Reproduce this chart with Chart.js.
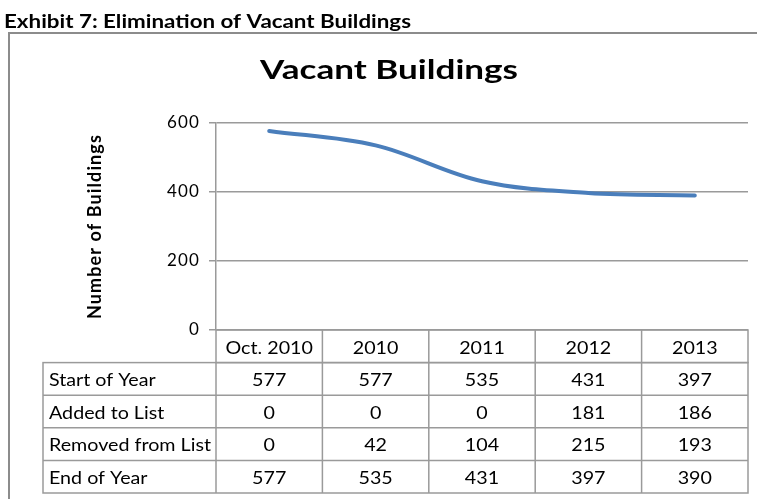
<!DOCTYPE html>
<html>
<head>
<meta charset="utf-8">
<script src="https://cdn.jsdelivr.net/npm/chart.js@4"></script>
<style>
  html, body { margin: 0; padding: 0; background: #fff; overflow: hidden; }
  canvas { display: block; }
</style>
</head>
<body>
<canvas id="vacantChart" width="757" height="499"></canvas>
<script>
// Data read from the exhibit
const periods = ['Oct. 2010', '2010', '2011', '2012', '2013'];
const startOfYear = [577, 577, 535, 431, 397];
const addedToList = [0, 0, 0, 181, 186];
const removedFromList = [0, 42, 104, 215, 193];
const endOfYear = [577, 535, 431, 397, 390];
const rowLabels = ['Start of Year', 'Added to List', 'Removed from List', 'End of Year'];
const yTicks = [0, 200, 400, 600];

const FONT = 'Lato, "Open Sans", sans-serif';
const GRID = '#9a9a9a';

// The source image is wider than the font's natural shape, so text is stretched sideways
function wideText(ctx, text, x, y, align, sx) {
    ctx.save();
    ctx.translate(x, y);
    ctx.scale(sx, 1);
    ctx.textAlign = align;
    ctx.fillText(text, 0, 0);
    ctx.restore();
}

// scale factor that makes `text` come out `width` pixels wide
function stretchFor(ctx, text, width) {
    return width / ctx.measureText(text).width;
}

// Frame, headings and the data table under the plot
const exhibitPlugin = {
    id: 'exhibit',
    beforeDraw(chart) {
        const ctx = chart.ctx;
        ctx.save();
        ctx.fillStyle = '#fff';
        ctx.fillRect(0, 0, chart.width, chart.height);

        // outer box (only left and top edges are in the picture)
        ctx.strokeStyle = '#8c8c8c';
        ctx.lineWidth = 2;
        ctx.beginPath();
        ctx.moveTo(9, chart.height);
        ctx.lineTo(9, 33);
        ctx.lineTo(chart.width, 33);
        ctx.stroke();

        ctx.fillStyle = '#000';
        ctx.textBaseline = 'alphabetic';
        const exhibit = 'Exhibit 7: Elimination of Vacant Buildings';
        ctx.font = 'bold 19px ' + FONT;
        wideText(ctx, exhibit, 4, 28, 'left', stretchFor(ctx, exhibit, 407));

        const title = 'Vacant Buildings';
        ctx.font = 'bold 26px ' + FONT;
        wideText(ctx, title, 389, 79, 'center', stretchFor(ctx, title, 258));
        ctx.restore();

        // spacing for the library's own axis text
        ctx.letterSpacing = '1.1px';
    },
    afterDraw(chart) {
        const ctx = chart.ctx;
        const x = chart.scales.x;
        const area = chart.chartArea;
        const colW = (area.right - area.left) / periods.length;
        const rowH = 32.6;
        const labelLeft = 43;
        const rows = [startOfYear, addedToList, removedFromList, endOfYear];

        ctx.save();
        ctx.letterSpacing = '0px';
        ctx.strokeStyle = GRID;
        ctx.lineWidth = 1.5;

        // header row (no label cell)
        const top = area.bottom;
        ctx.strokeRect(area.left, top, area.right - area.left, rowH);
        // body rows
        ctx.strokeRect(labelLeft, top + rowH, area.right - labelLeft, rowH * rows.length);
        ctx.beginPath();
        for (let r = 1; r < rows.length; r++) {
            const yy = top + rowH * (r + 1);
            ctx.moveTo(labelLeft, yy);
            ctx.lineTo(area.right, yy);
        }
        ctx.moveTo(area.left, top + rowH);
        ctx.lineTo(area.left, top + rowH * (rows.length + 1));
        for (let i = 1; i < periods.length; i++) {
            const xx = x.getPixelForValue(i) - colW / 2;
            ctx.moveTo(xx, top);
            ctx.lineTo(xx, top + rowH * (rows.length + 1));
        }
        ctx.stroke();

        ctx.fillStyle = '#000';
        ctx.font = '17px ' + FONT;
        ctx.textBaseline = 'alphabetic';
        const sx = stretchFor(ctx, 'Removed from List', 162);
        periods.forEach((p, i) => {
            wideText(ctx, p, x.getPixelForValue(i), top + 24, 'center', sx);
        });
        rows.forEach((vals, r) => {
            const base = top + rowH * (r + 1) + 23.5;
            wideText(ctx, rowLabels[r], labelLeft + 6, base, 'left', sx);
            vals.forEach((v, i) => wideText(ctx, String(v), x.getPixelForValue(i), base, 'center', sx));
        });
        ctx.restore();
    }
};

new Chart(document.getElementById('vacantChart'), {
    type: 'line',
    data: {
        labels: periods,
        datasets: [{
            label: 'End of Year',
            data: endOfYear,
            borderColor: '#4A7EBB',
            borderWidth: 4,
            borderCapStyle: 'round',
            tension: 0.35,
            pointRadius: 0,
            fill: false
        }]
    },
    options: {
        responsive: false,
        animation: false,
        events: [],
        layout: {
            padding: { left: 0, top: 123, right: 9, bottom: 169 }
        },
        plugins: {
            legend: { display: false },
            title: { display: false },
            tooltip: { enabled: false }
        },
        scales: {
            x: {
                type: 'category',
                display: false,
                offset: true
            },
            y: {
                min: 0,
                max: 600,
                afterFit(scale) { scale.width = 216; },
                afterBuildTicks(scale) {
                    scale.ticks = yTicks.map(v => ({ value: v }));
                },
                grid: {
                    color: GRID,
                    lineWidth: 1.5,
                    tickLength: 7,
                    drawTicks: true
                },
                border: { display: true, color: GRID, width: 1.5 },
                ticks: {
                    color: '#000',
                    padding: 9,
                    font: { family: FONT, size: 17 }
                },
                title: {
                    display: true,
                    text: 'Number of Buildings',
                    color: '#000',
                    font: { family: FONT, size: 18, weight: 'bold' },
                    padding: { top: 84, bottom: 0 }
                }
            }
        }
    },
    plugins: [exhibitPlugin]
});
</script>
</body>
</html>
